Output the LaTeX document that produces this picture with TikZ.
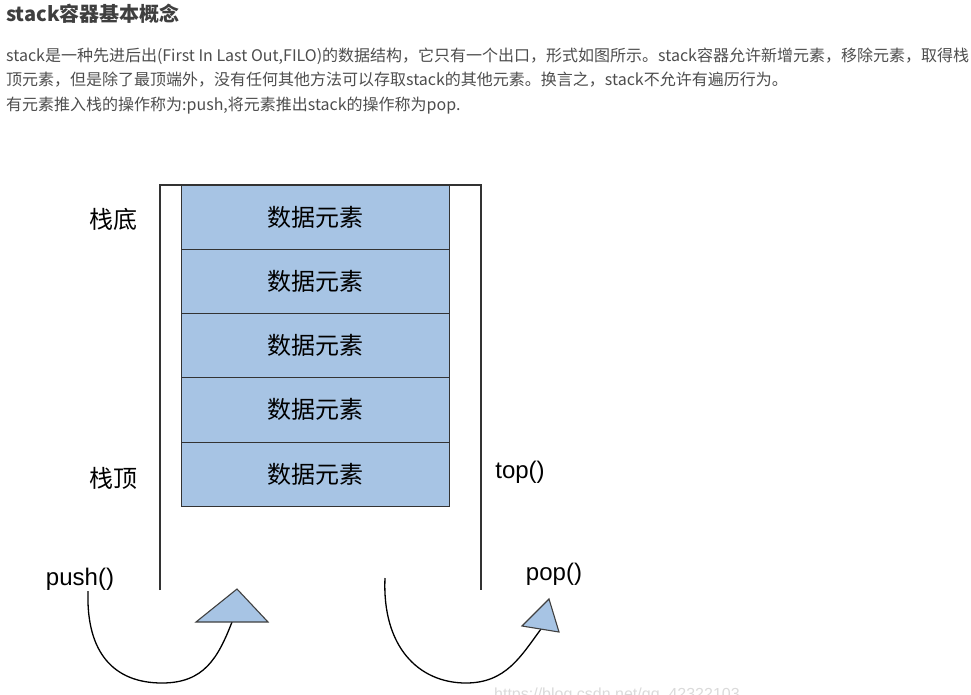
\documentclass[tikz,border=0pt]{standalone}
\usepackage{fontspec}
\setmainfont{Liberation Sans}
\newfontfamily\cjk{Noto Sans CJK SC}
\usetikzlibrary{positioning}
\definecolor{elemblue}{HTML}{A7C4E4}
\definecolor{txtgray}{HTML}{4D4D4D}
\definecolor{titlegray}{HTML}{3F3F3F}
\definecolor{wmgray}{HTML}{DADADA}

\begin{document}
\begin{tikzpicture}[x=1pt,y=-1pt,
  elem/.style={draw=black!80,fill=elemblue,minimum width=268pt,minimum height=64.2pt,inner sep=0pt,font=\cjk\fontsize{24}{28}\selectfont},
  lbl/.style={inner sep=0pt,font=\fontsize{24}{28}\selectfont},
  zhlbl/.style={inner sep=0pt,font=\cjk\fontsize{24}{28}\selectfont},
  para/.style={anchor=base west,inner sep=0pt,text=txtgray,font=\cjk\fontsize{16}{20}\selectfont},
  wall/.style={draw=black!80,line width=1.2pt},
  curve/.style={draw=black,line width=1.3pt},
  tri/.style={draw=black!75,fill=elemblue,line width=1.1pt,line join=miter}]
\clip (0,0) rectangle (971,694);
% heading and text
\node[anchor=base west,inner sep=0pt,text=titlegray,font=\cjk\bfseries\fontsize{20}{24}\selectfont] (title) at (6,21) {stack容器基本概念};
\node[para] (line1) at (6,61) {stack是一种先进后出(First In Last Out,FILO)的数据结构，它只有一个出口，形式如图所示。stack容器允许新增元素，移除元素，取得栈};
\node[para] (line2) at (6,85) {顶元素，但是除了最顶端外，没有任何其他方法可以存取stack的其他元素。换言之，stack不允许有遍历行为。};
\node[para] (line3) at (6,110) {有元素推入栈的操作称为:push,将元素推出stack的操作称为pop.};
% the stack
\draw[wall] (160,590) -- (160,185) -- (481,185) -- (481,590);
\foreach \i in {1,...,5}
  \node[elem] (e\i) at (315,{185+64.2*(\i-0.5)}) {数据元素};
\node[zhlbl] (bottom) at (113,219) {栈底};
\node[zhlbl] (topzh) at (113,478) {栈顶};
\node[lbl] (top) at (520,472) {top()};
\node[lbl] (push) at (80,579) {push()};
\node[lbl] (pop) at (554,574) {pop()};
% push / pop arrows
\coordinate (pushS) at (88,591); \coordinate (pushB) at (162,683); \coordinate (pushE) at (232,622);
\coordinate (popS) at (385,578); \coordinate (popB) at (466,683); \coordinate (popE) at (541,629);
\draw[curve] (pushS) .. controls +(-2,62) and +(-48,0) .. (pushB) .. controls +(42,0) and +(-14,36) .. (pushE);
\draw[curve] (popS) .. controls +(-3,68) and +(-48,0) .. (popB) .. controls +(40,0) and +(-20,27) .. (popE);
\filldraw[tri] (237,589) -- (196,622) -- (268,622) -- cycle;
\filldraw[tri] (549,599) -- (522,626) -- (559,632) -- cycle;
\node[anchor=base west,inner sep=0pt,text=wmgray,font=\fontsize{16}{20}\selectfont] (mark) at (494,699) {https://blog.csdn.net/qq\_42322103};
\end{tikzpicture}
\end{document}
